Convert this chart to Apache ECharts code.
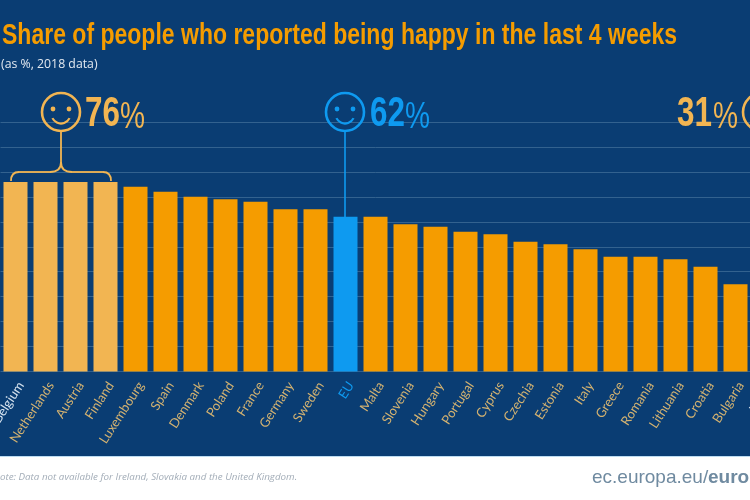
<!DOCTYPE html>
<html>
<head>
<meta charset="UTF-8">
<title>Happiness</title>
<script src="https://cdn.jsdelivr.net/npm/echarts@6/dist/echarts.min.js"></script>
<style>
	html, body { margin: 0; padding: 0; background: #fff; }
	#chart { width: 750px; height: 500px; }
</style>
</head>
<body>
<div id="chart"></div>
<script>
var countries = ['Belgium', 'Netherlands', 'Austria', 'Finland', 'Luxembourg', 'Spain', 'Denmark', 'Poland', 'France', 'Germany', 'Sweden', 'EU', 'Malta', 'Slovenia', 'Hungary', 'Portugal', 'Cyprus', 'Czechia', 'Estonia', 'Italy', 'Greece', 'Romania', 'Lithuania', 'Croatia', 'Bulgaria', 'Latvia'];
var happyShare = [76, 76, 76, 76, 74, 72, 70, 69, 68, 65, 65, 62, 62, 59, 58, 56, 55, 52, 51, 49, 46, 46, 45, 42, 35, 31];
var topCountries = ['Belgium', 'Netherlands', 'Austria', 'Finland'];

var NAVY = '#0a3d73', ORANGE = '#f59c00', PALE = '#f2b552', BLUE = '#0e9af0', TAN = '#d3b271';
var SANS = '"Liberation Sans", sans-serif';

function barColor(name) {
	if (name === 'EU') return BLUE;
	return topCountries.indexOf(name) >= 0 ? PALE : ORANGE;
}

function labelColor(name) {
	if (name === 'EU') return BLUE;
	return name === 'Belgium' || name === 'Latvia' ? '#d5e2ee' : TAN;
}

// squeezed text, the original uses a condensed face that is not installed
function narrow(text, x, y, scaleX, font, fill) {
	return { type: 'text', z: 5, x: x, y: y, scaleX: scaleX, style: { text: text, fill: fill, font: font } };
}

function face(cx, cy, color) {
	return [
		{ type: 'circle', shape: { cx: cx, cy: cy, r: 19 }, style: { fill: 'none', stroke: color, lineWidth: 2.6 }, z: 5 },
		{ type: 'circle', shape: { cx: cx - 8, cy: cy - 3, r: 2.4 }, style: { fill: color }, z: 5 },
		{ type: 'circle', shape: { cx: cx + 8, cy: cy - 3, r: 2.4 }, style: { fill: color }, z: 5 },
		{ type: 'arc', shape: { cx: cx, cy: cy + 2, r: 9.5, startAngle: 0.45, endAngle: Math.PI - 0.45 }, style: { fill: 'none', stroke: color, lineWidth: 2.2 }, z: 5 }
	];
}

function bracketPart(shape) {
	return { type: 'bezierCurve', shape: shape, style: { fill: 'none', stroke: PALE, lineWidth: 1.8 }, z: 5 };
}

function bracketLine(x1, y1, x2, y2) {
	return { type: 'line', shape: { x1: x1, y1: y1, x2: x2, y2: y2 }, style: { stroke: PALE, lineWidth: 1.8 }, z: 5 };
}

var chart = echarts.init(document.getElementById('chart'), null, { renderer: 'canvas' });
chart.setOption({
	animation: false,
	backgroundColor: '#fff',
	grid: { left: 0.5, top: 122, width: 780, height: 249.5, outerBoundsMode: 'none' },
	xAxis: {
		type: 'category',
		data: countries,
		axisLine: { show: false },
		axisTick: { show: false },
		axisLabel: {
			interval: 0,
			rotate: 57,
			margin: 8,
			verticalAlign: 'top',
			fontFamily: 'Lato, sans-serif',
			fontSize: 13,
			color: labelColor
		}
	},
	yAxis: {
		type: 'value',
		min: 0,
		max: 100,
		interval: 10,
		axisLabel: { show: false },
		axisLine: { show: false },
		axisTick: { show: false },
		splitLine: { lineStyle: { color: '#33628f', width: 1 } }
	},
	series: [{
		type: 'bar',
		barWidth: 24,
		z: 3,
		data: countries.map(function (name, i) {
			return { value: happyShare[i], itemStyle: { color: barColor(name) } };
		})
	}],
	graphic: [
		{ type: 'rect', silent: true, z: -10, shape: { x: 0, y: 0, width: 750, height: 456 }, style: { fill: NAVY } },
		{ type: 'line', silent: true, z: -9, shape: { x1: 0, y1: 456.5, x2: 750, y2: 456.5 }, style: { stroke: '#bcdcf2', lineWidth: 1 } },
		bracketLine(61, 131, 61, 162),
		bracketPart({ x1: 61, y1: 162, cpx1: 61, cpy1: 170, cpx2: 55, cpy2: 172, x2: 50, y2: 172 }),
		bracketPart({ x1: 61, y1: 162, cpx1: 61, cpy1: 170, cpx2: 67, cpy2: 172, x2: 72, y2: 172 }),
		bracketLine(50, 172, 19, 172),
		bracketLine(72, 172, 103, 172),
		bracketPart({ x1: 19, y1: 172, cpx1: 14, cpy1: 172, cpx2: 11, cpy2: 175, x2: 11, y2: 181 }),
		bracketPart({ x1: 103, y1: 172, cpx1: 108, cpy1: 172, cpx2: 111, cpy2: 175, x2: 111, y2: 181 }),
		{ type: 'line', shape: { x1: 345, y1: 131, x2: 345, y2: 217 }, style: { stroke: BLUE, lineWidth: 1.6 }, z: 5 }
	].concat(face(61, 112, PALE), face(345, 112, BLUE), [
		narrow('Share of people who reported being happy in the last 4 weeks', 2, 21, 0.767, 'bold 30px ' + SANS, ORANGE),
		narrow('(as %, 2018 data)', 1, 58, 1, '12.3px "Open Sans", sans-serif', '#e3e9f0'),
		narrow('76', 85, 93, 0.73, 'bold 43px ' + SANS, PALE),
		narrow('%', 120, 100, 0.78, '36px ' + SANS, PALE),
		narrow('62', 370, 93, 0.73, 'bold 43px ' + SANS, BLUE),
		narrow('%', 405, 100, 0.78, '36px ' + SANS, BLUE),
		narrow('31', 677, 93, 0.73, 'bold 43px ' + SANS, PALE),
		narrow('%', 713, 100, 0.78, '36px ' + SANS, PALE),
		{ type: 'circle', z: 5, shape: { cx: 762, cy: 112, r: 19 }, style: { fill: 'none', stroke: PALE, lineWidth: 2.6 } },
		narrow('Note: Data not available for Ireland, Slovakia and the United Kingdom.', -7, 472, 1, 'italic 9.8px "Open Sans", sans-serif', '#a3adb8'),
		narrow('ec.europa.eu/', 592, 468, 1, '19px ' + SANS, '#6f8aa0'),
		narrow('eurostat', 708, 468, 1, 'bold 19px ' + SANS, '#6f8aa0')
	])
});
</script>
</body>
</html>
